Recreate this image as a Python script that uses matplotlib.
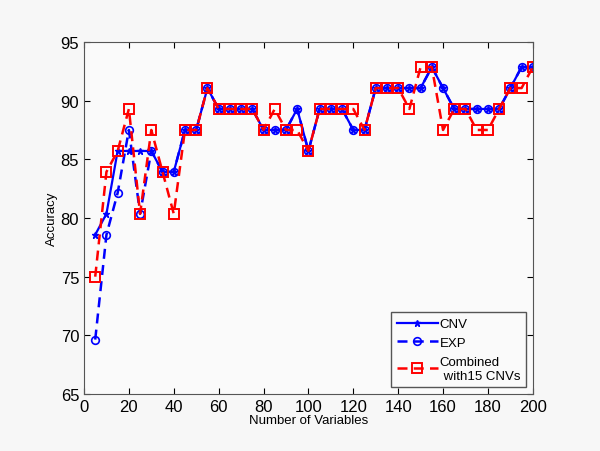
import numpy as np
import matplotlib
matplotlib.use('Agg')
import matplotlib.pyplot as plt

plt.rcParams['font.family'] = ['Liberation Sans', 'DejaVu Sans']

# number of variables
n_vars = list(range(5, 205, 5))

cnv = [78.57, 80.36, 85.71, 85.71, 85.71, 85.71, 83.93, 83.93, 87.5, 87.5,
       91.07, 89.29, 89.29, 89.29, 89.29, 87.5, 87.5, 87.5, 89.29, 85.71,
       89.29, 89.29, 89.29, 87.5, 87.5, 91.07, 91.07, 91.07, 91.07, 91.07,
       92.86, 91.07, 89.29, 89.29, 89.29, 89.29, 89.29, 91.07, 92.86, 92.86]

exp = [69.64, 78.57, 82.14, 87.5, 80.36, 85.71, 83.93, 83.93, 87.5, 87.5,
       91.07, 89.29, 89.29, 89.29, 89.29, 87.5, 87.5, 87.5, 89.29, 85.71,
       89.29, 89.29, 89.29, 87.5, 87.5, 91.07, 91.07, 91.07, 91.07, 91.07,
       92.86, 91.07, 89.29, 89.29, 89.29, 89.29, 89.29, 91.07, 92.86, 92.86]

combined = [75.0, 83.93, 85.71, 89.29, 80.36, 87.5, 83.93, 80.36, 87.5, 87.5,
            91.07, 89.29, 89.29, 89.29, 89.29, 87.5, 89.29, 87.5, 87.5, 85.71,
            89.29, 89.29, 89.29, 89.29, 87.5, 91.07, 91.07, 91.07, 89.29, 92.86,
            92.86, 87.5, 89.29, 89.29, 87.5, 87.5, 89.29, 91.07, 91.07, 92.86]

bg = '#f7f7f7'
fig = plt.figure(figsize=(6, 4.52), dpi=100, facecolor=bg)
ax = fig.add_axes([0.14, 0.126, 0.748, 0.779], facecolor='#fafafa')

ax.plot(n_vars, cnv, '-*', color='blue', lw=1.6, ms=5, label='CNV')
ax.plot(n_vars, exp, '--o', color='blue', lw=1.8, ms=5.5, mfc='none',
        mew=1.2, dashes=(4, 2.5), label='EXP')
ax.plot(n_vars, combined, '--s', color='red', lw=1.8, ms=6.5, mfc='none',
        mew=1.4, dashes=(4, 2.5), label='Combined\n with15 CNVs')

ax.set_xlim(0, 200)
ax.set_ylim(65, 95)
ax.set_xticks(range(0, 201, 20))
ax.set_yticks(range(65, 96, 5))
ax.tick_params(direction='in', top=True, right=True, labelsize=12, length=4)
for s in ax.spines.values():
    s.set_color('#555555')

ax.set_xlabel('Number of Variables', fontsize=9.5, labelpad=0)
ax.set_ylabel('Accuracy', fontsize=9.5, labelpad=2)

leg = ax.legend(loc='lower right', fontsize=9.5, fancybox=False,
                edgecolor='#555555', facecolor='#fafafa', framealpha=1,
                handlelength=3.1, borderpad=0.45, labelspacing=0.5,
                handletextpad=0.15, borderaxespad=0.5)

plt.savefig('out.png', dpi=100, facecolor=bg)
